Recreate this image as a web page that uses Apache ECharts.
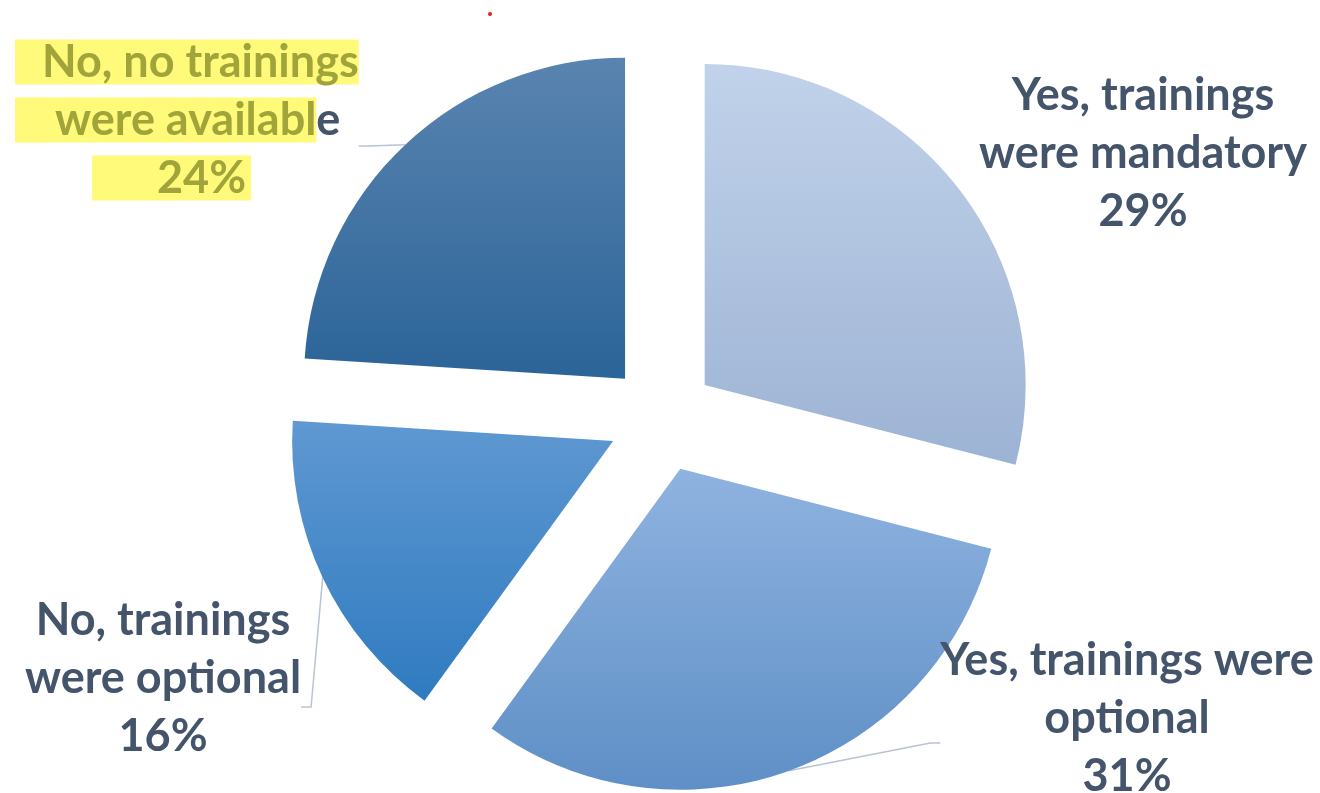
<!DOCTYPE html>
<html>
<head>
<meta charset="utf-8">
<script src="https://cdn.jsdelivr.net/npm/echarts@6/dist/echarts.min.js"></script>
<style>
html,body{margin:0;padding:0;background:#fff;}
#chart{width:1320px;height:793px;}
</style>
</head>
<body>
<div id="chart"></div>
<script>
const categories = ['Yes, trainings were mandatory', 'Yes, trainings were optional', 'No, trainings were optional', 'No, no trainings were available'];
const values = [29, 31, 16, 24];

const gradients = [
  ['#c1d2ea', '#9db3d4'],
  ['#8fb3e0', '#5e8fc6'],
  ['#5f98d2', '#2f7bc0'],
  ['#5a84b0', '#2b6498']
];
// label anchor (center of padded box), alignment and extra bottom padding
const labelPos = [
  {x: 1143, y: 153, align: 'center', padBottom: 0},
  {x: 1127, y: 743, align: 'center', padBottom: 50},
  {x: 163, y: 707, align: 'center', padBottom: 58},
  {x: 15, y: 146, align: 'left', padBottom: 52}
];
const formatters = [
  'Yes, trainings\nwere mandatory\n{d}%',
  'Yes, trainings were\noptional\n{d}%',
  'No, trainings\nwere optional\n{d}%',
  '{a|No, no trainings}\n{b|were availabl}{n|e}\n{s| }{c|{d}%}'
];

function grad(c) {
  return {type: 'linear', x: 0, y: 0, x2: 0, y2: 1,
    colorStops: [{offset: 0, color: c[0]}, {offset: 1, color: c[1]}]};
}

const FONT = 'Lato, "Open Sans", sans-serif';
const FS = 45;
const LH = 58;
const TXT = '#44546a';
const HLBG = '#fffa7a';
const HLTX = '#a0a43a';
const R = 321;
const OFFSET = 54;
const CENTER = [662, 418];

const pieData = categories.map((name, i) => ({
  name: name,
  value: values[i],
  selected: true,
  itemStyle: {color: grad(gradients[i])},
  select: {itemStyle: {color: grad(gradients[i])}}
}));

const labelData = categories.map((name, i) => ({
  name: name,
  value: values[i],
  labelLine: {show: i !== 0},
  label: {formatter: formatters[i], padding: [0, 0, labelPos[i].padBottom, 0]}
}));

const tok = (extra) => Object.assign({fontFamily: FONT, fontWeight: 'bold', fontSize: FS, lineHeight: LH}, extra);

const chart = echarts.init(document.getElementById('chart'));
chart.setOption({
  backgroundColor: '#ffffff',
  animation: false,
  graphic: [{type: 'circle', shape: {cx: 490, cy: 14, r: 2}, style: {fill: '#e02020'}}],
  series: [{
    type: 'pie',
    center: CENTER,
    radius: R,
    startAngle: 90,
    clockwise: true,
    selectedMode: 'multiple',
    selectedOffset: OFFSET,
    silent: true,
    emphasis: {disabled: true},
    label: {show: false},
    labelLine: {show: false},
    itemStyle: {borderWidth: 0},
    data: pieData
  }, {
    type: 'pie',
    center: CENTER,
    radius: R + OFFSET,
    startAngle: 90,
    clockwise: true,
    silent: true,
    selectedMode: false,
    emphasis: {disabled: true},
    avoidLabelOverlap: false,
    itemStyle: {color: 'rgba(0,0,0,0)', borderWidth: 0},
    label: {
      show: true,
      position: 'outside',
      fontFamily: FONT,
      fontWeight: 'bold',
      fontSize: FS,
      lineHeight: LH,
      color: TXT,
      rich: {
        a: tok({color: HLTX, backgroundColor: HLBG, padding: [0, 0, 0, 27]}),
        b: tok({color: HLTX, backgroundColor: HLBG, padding: [0, 0, 0, 40]}),
        n: tok({color: TXT}),
        s: tok({width: 77}),
        c: tok({color: HLTX, backgroundColor: HLBG, padding: [0, 5, 0, 65]})
      }
    },
    labelLine: {
      show: true,
      length: 20,
      length2: 10,
      lineStyle: {color: '#b9c3d3', width: 1.5}
    },
    labelLayout: function (params) {
      const p = labelPos[params.dataIndex];
      return {x: p.x, y: p.y, align: p.align, verticalAlign: 'middle'};
    },
    data: labelData
  }]
});
</script>
</body>
</html>
